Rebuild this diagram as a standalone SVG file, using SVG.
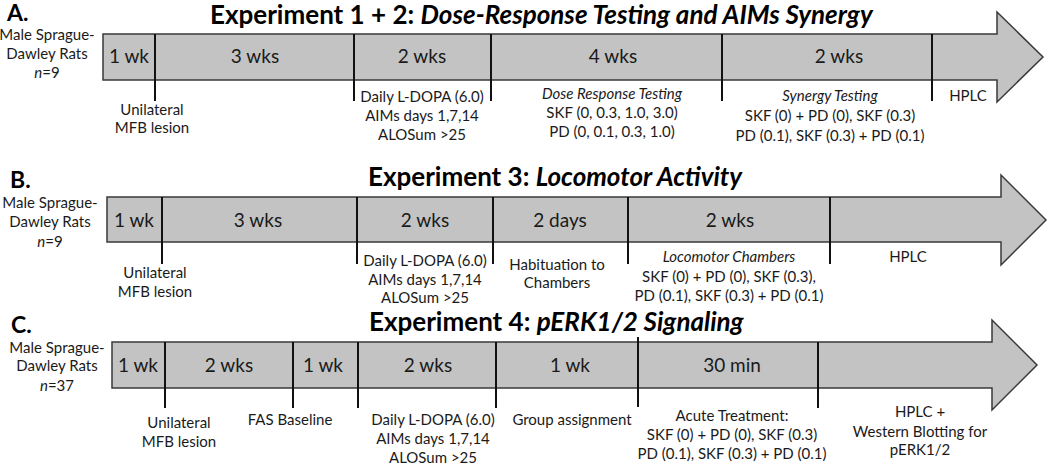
<svg xmlns="http://www.w3.org/2000/svg" width="1050" height="467" viewBox="0 0 1050 467">
<style>
text{font-family:Lato,"Open Sans","Liberation Sans",sans-serif;fill:#1a1a1a}
.t{font-size:26px;font-weight:bold;fill:#000}
.l{font-size:23px;font-weight:bold;fill:#000}
.d{font-size:19px;text-anchor:middle}
.s{font-size:15px;text-anchor:middle}
.i{font-style:italic}
.arr{fill:#c3c3c3;stroke:#3a3a3a;stroke-width:1.5}
.dv{stroke:#111;stroke-width:2}
</style>
<g id="panelA">
<text class="l" x="7" y="21">A.</text>
<text class="t" x="210" y="24">Experiment 1 + 2: <tspan class="i">Dose-Response Testing and AIMs Synergy</tspan></text>
<text class="s" x="47" y="40">Male Sprague-</text>
<text class="s" x="47" y="59">Dawley Rats</text>
<text class="s" x="47" y="78"><tspan class="i">n</tspan>=9</text>
<path id="arrowA" class="arr" d="M103,34 H997 V12 L1043,57 L997,102 V80 H103 Z"/>
<g id="divA" class="dv"><path d="M155,34V101M354,34V101M491,34V101M722,34V101M932,34V101"/></g>
<text class="d" x="129" y="63">1 wk</text>
<text class="d" x="255" y="63">3 wks</text>
<text class="d" x="422" y="63">2 wks</text>
<text class="d" x="613" y="63">4 wks</text>
<text class="d" x="839" y="63">2 wks</text>
<text class="s" x="152" y="115">Unilateral</text>
<text class="s" x="152" y="133">MFB lesion</text>
<text class="s" x="422" y="102">Daily L-DOPA (6.0)</text>
<text class="s" x="422" y="121">AIMs days 1,7,14</text>
<text class="s" x="422" y="140">ALOSum &gt;25</text>
<text class="s i" x="612" y="99">Dose Response Testing</text>
<text class="s" x="612" y="118">SKF (0, 0.3, 1.0, 3.0)</text>
<text class="s" x="612" y="137">PD (0, 0.1, 0.3, 1.0)</text>
<text class="s i" x="830" y="101">Synergy Testing</text>
<text class="s" x="830" y="121">SKF (0) + PD (0), SKF (0.3)</text>
<text class="s" x="830" y="141">PD (0.1), SKF (0.3) + PD (0.1)</text>
<text class="s" x="968" y="101">HPLC</text>
</g>
<g id="panelB">
<text class="l" x="10" y="188">B.</text>
<text class="t" x="368" y="186">Experiment 3: <tspan class="i">Locomotor Activity</tspan></text>
<text class="s" x="50" y="208">Male Sprague-</text>
<text class="s" x="50" y="227">Dawley Rats</text>
<text class="s" x="50" y="247"><tspan class="i">n</tspan>=9</text>
<path id="arrowB" class="arr" d="M107,197 H1001 V175 L1046,220 L1001,265 V242 H107 Z"/>
<g id="divB" class="dv"><path d="M162,197V264M357,197V264M493,197V264M628,197V264M830,197V264"/></g>
<text class="d" x="134" y="227">1 wk</text>
<text class="d" x="258" y="227">3 wks</text>
<text class="d" x="425" y="227">2 wks</text>
<text class="d" x="560" y="227">2 days</text>
<text class="d" x="730" y="227">2 wks</text>
<text class="s" x="155" y="278">Unilateral</text>
<text class="s" x="155" y="297">MFB lesion</text>
<text class="s" x="425" y="266">Daily L-DOPA (6.0)</text>
<text class="s" x="425" y="285">AIMs days 1,7,14</text>
<text class="s" x="425" y="303">ALOSum &gt;25</text>
<text class="s" x="557" y="270">Habituation to</text>
<text class="s" x="557" y="288">Chambers</text>
<text class="s i" x="729" y="262">Locomotor Chambers</text>
<text class="s" x="729" y="282">SKF (0) + PD (0), SKF (0.3),</text>
<text class="s" x="729" y="301">PD (0.1), SKF (0.3) + PD (0.1)</text>
<text class="s" x="908" y="262">HPLC</text>
</g>
<g id="panelC">
<text class="l" x="11" y="333">C.</text>
<text class="t" x="369" y="331">Experiment 4: <tspan class="i">pERK1/2 Signaling</tspan></text>
<text class="s" x="57" y="353">Male Sprague-</text>
<text class="s" x="57" y="371">Dawley Rats</text>
<text class="s" x="57" y="391"><tspan class="i">n</tspan>=37</text>
<path id="arrowC" class="arr" d="M112,342 H992 V320 L1037,365 L992,410 V388 H112 Z"/>
<g id="divC" class="dv"><path d="M165,342V408M293,342V408M358,342V408M496,342V408M638,337V407M818,342V408"/></g>
<text class="d" x="138" y="372">1 wk</text>
<text class="d" x="229" y="372">2 wks</text>
<text class="d" x="323" y="372">1 wk</text>
<text class="d" x="428" y="372">2 wks</text>
<text class="d" x="570" y="372">1 wk</text>
<text class="d" x="732" y="372">30 min</text>
<text class="s" x="179" y="428">Unilateral</text>
<text class="s" x="179" y="447">MFB lesion</text>
<text class="s" x="290" y="425">FAS Baseline</text>
<text class="s" x="433" y="425">Daily L-DOPA (6.0)</text>
<text class="s" x="433" y="444">AIMs days 1,7,14</text>
<text class="s" x="433" y="463">ALOSum &gt;25</text>
<text class="s" x="572" y="425">Group assignment</text>
<text class="s" x="732" y="421">Acute Treatment:</text>
<text class="s" x="732" y="440">SKF (0) + PD (0), SKF (0.3)</text>
<text class="s" x="732" y="459">PD (0.1), SKF (0.3) + PD (0.1)</text>
<text class="s" x="920" y="417">HPLC +</text>
<text class="s" x="920" y="437">Western Blotting for</text>
<text class="s" x="920" y="455">pERK1/2</text>
</g>
</svg>
